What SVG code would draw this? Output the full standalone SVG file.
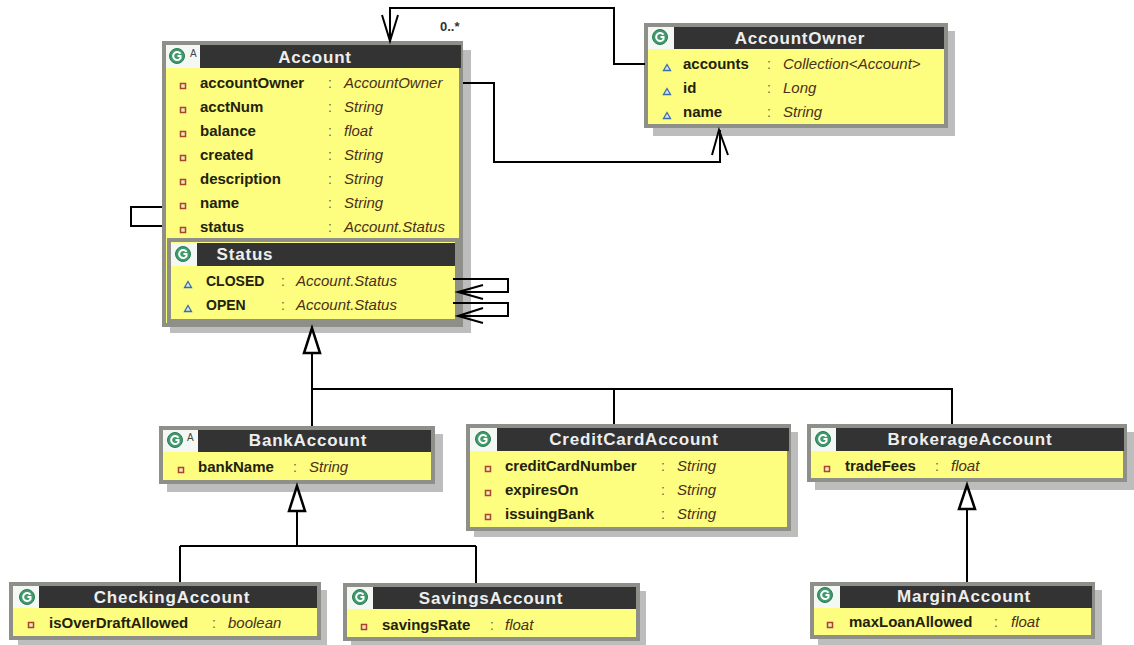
<svg xmlns="http://www.w3.org/2000/svg" width="1134" height="645" viewBox="0 0 1134 645">
<style>
text{font-family:"Liberation Sans",Arial,sans-serif}
.sh{fill:#bdbdbd}
.box{fill:#fdfd80;stroke:#8f8f8a;stroke-width:4}
.hd{fill:#333333}
.ic{fill:#f4f8f4}
.t{fill:#eeeeee;font-size:17px;font-weight:bold;letter-spacing:.8px;text-anchor:middle}
.n{fill:#22220c;font-size:15px;font-weight:bold}
.u{font-size:14px}
.c{fill:#666655;font-size:14px}
.y{fill:#4a3018;font-size:15px;font-style:italic}
.a{fill:#444;font-size:10px}
.m{fill:#333;font-size:13px;font-weight:bold}
.g{fill:#3f9a6c;stroke:#2c7a55;stroke-width:1}
.gl{fill:none;stroke:#fff;stroke-width:2}
.pv{fill:#f4e8c0;stroke:#a8452c;stroke-width:1.5}
.pk{fill:#d8e4f0;stroke:#3a6ea8;stroke-width:1.3}
.l{fill:none;stroke:#000;stroke-width:2}
.o{fill:#fff;stroke:#000;stroke-width:2.5}
</style>
<defs>
<g id="gi"><circle r="7.5" class="g"/><path d="M3.5-2.2A4 4 0 1 0 3.5 2.2V0H.5" class="gl"/></g>
<rect id="pv" x="-2.5" y="-2.5" width="5" height="5" class="pv"/>
<path id="pk" d="M0-3.5L3.5 2.5H-3.5Z" class="pk"/>
</defs>
<g id="Account">
<rect class="sh" x="170" y="50" width="301" height="283"/>
<rect class="box" x="164" y="43" width="297" height="282"/>
<rect class="ic" x="166" y="45" width="34" height="23"/><rect class="hd" x="200" y="45" width="261" height="23"/>
<use href="#gi" x="177" y="56"/><text class="a" x="190" y="57">A</text>
<text class="t" x="315" y="63">Account</text>
<use href="#pv" x="183" y="86"/><text class="n" x="200" y="88">accountOwner</text><text class="c" x="328" y="88">:</text><text class="y" x="344" y="88">AccountOwner</text>
<use href="#pv" x="183" y="110"/><text class="n" x="200" y="112">acctNum</text><text class="c" x="328" y="112">:</text><text class="y" x="344" y="112">String</text>
<use href="#pv" x="183" y="134"/><text class="n" x="200" y="136">balance</text><text class="c" x="328" y="136">:</text><text class="y" x="344" y="136">float</text>
<use href="#pv" x="183" y="158"/><text class="n" x="200" y="160">created</text><text class="c" x="328" y="160">:</text><text class="y" x="344" y="160">String</text>
<use href="#pv" x="183" y="182"/><text class="n" x="200" y="184">description</text><text class="c" x="328" y="184">:</text><text class="y" x="344" y="184">String</text>
<use href="#pv" x="183" y="206"/><text class="n" x="200" y="208">name</text><text class="c" x="328" y="208">:</text><text class="y" x="344" y="208">String</text>
<use href="#pv" x="183" y="230"/><text class="n" x="200" y="232">status</text><text class="c" x="328" y="232">:</text><text class="y" x="344" y="232">Account.Status</text>
</g>
<g id="Status">
<rect class="box" x="169" y="240" width="288" height="81"/>
<rect class="ic" x="171" y="243" width="26" height="23"/><rect class="hd" x="197" y="243" width="258" height="23"/>
<use href="#gi" x="183" y="254"/>
<text class="t" x="245" y="260">Status</text>
<use href="#pk" x="188" y="285"/><text class="n u" x="206" y="286">CLOSED</text><text class="c" x="281" y="286">:</text><text class="y" x="296" y="286">Account.Status</text>
<use href="#pk" x="188" y="309"/><text class="n u" x="206" y="310">OPEN</text><text class="c" x="281" y="310">:</text><text class="y" x="296" y="310">Account.Status</text>
</g>
<text class="m" x="440" y="31">0..*</text>
<g id="AccountOwner">
<rect class="sh" x="653" y="31" width="302" height="105"/>
<rect class="box" x="646" y="25" width="300" height="101"/>
<rect class="ic" x="648" y="27" width="26" height="22"/><rect class="hd" x="674" y="27" width="270" height="22"/>
<use href="#gi" x="660" y="37"/>
<text class="t" x="800" y="44">AccountOwner</text>
<use href="#pk" x="667" y="68"/><text class="n" x="683" y="69">accounts</text><text class="c" x="767" y="69">:</text><text class="y" x="783" y="69">Collection&lt;Account&gt;</text>
<use href="#pk" x="667" y="92"/><text class="n" x="683" y="93">id</text><text class="c" x="767" y="93">:</text><text class="y" x="783" y="93">Long</text>
<use href="#pk" x="667" y="116"/><text class="n" x="683" y="117">name</text><text class="c" x="767" y="117">:</text><text class="y" x="783" y="117">String</text>
</g>
<g id="BankAccount">
<rect class="sh" x="167" y="434" width="276" height="58"/>
<rect class="box" x="161" y="428" width="272" height="54"/>
<rect class="ic" x="163" y="430" width="35" height="22"/><rect class="hd" x="198" y="430" width="233" height="22"/>
<use href="#gi" x="175" y="440"/><text class="a" x="187" y="441">A</text>
<text class="t" x="308" y="446">BankAccount</text>
<use href="#pv" x="181" y="470"/><text class="n" x="198" y="472">bankName</text><text class="c" x="293" y="472">:</text><text class="y" x="309" y="472">String</text>
</g>
<g id="CreditCardAccount">
<rect class="sh" x="474" y="432" width="324" height="105"/>
<rect class="box" x="468" y="426" width="321" height="103"/>
<rect class="ic" x="470" y="428" width="27" height="23"/><rect class="hd" x="497" y="428" width="292" height="23"/>
<use href="#gi" x="483" y="439"/>
<text class="t" x="634" y="445">CreditCardAccount</text>
<use href="#pv" x="488" y="469"/><text class="n" x="505" y="471">creditCardNumber</text><text class="c" x="661" y="471">:</text><text class="y" x="677" y="471">String</text>
<use href="#pv" x="488" y="493"/><text class="n" x="505" y="495">expiresOn</text><text class="c" x="661" y="495">:</text><text class="y" x="677" y="495">String</text>
<use href="#pv" x="488" y="517"/><text class="n" x="505" y="519">issuingBank</text><text class="c" x="661" y="519">:</text><text class="y" x="677" y="519">String</text>
</g>
<g id="BrokerageAccount">
<rect class="sh" x="815" y="432" width="319" height="58"/>
<rect class="box" x="809" y="426" width="316" height="54"/>
<rect class="ic" x="811" y="428" width="25" height="23"/><rect class="hd" x="836" y="428" width="288" height="23"/>
<use href="#gi" x="823" y="439"/>
<text class="t" x="970" y="445">BrokerageAccount</text>
<use href="#pv" x="827" y="469"/><text class="n" x="845" y="471">tradeFees</text><text class="c" x="935" y="471">:</text><text class="y" x="951" y="471">float</text>
</g>
<g id="CheckingAccount">
<rect class="sh" x="18" y="590" width="309" height="55"/>
<rect class="box" x="11" y="584" width="308" height="54"/>
<rect class="ic" x="13" y="586" width="26" height="22"/><rect class="hd" x="39" y="586" width="278" height="22"/>
<use href="#gi" x="27" y="597"/>
<text class="t" x="172" y="603">CheckingAccount</text>
<use href="#pv" x="31" y="625"/><text class="n" x="49" y="628">isOverDraftAllowed</text><text class="c" x="212" y="628">:</text><text class="y" x="228" y="628">boolean</text>
</g>
<g id="SavingsAccount">
<rect class="sh" x="351" y="591" width="295" height="54"/>
<rect class="box" x="345" y="585" width="293" height="54"/>
<rect class="ic" x="347" y="587" width="26" height="22"/><rect class="hd" x="373" y="587" width="263" height="22"/>
<use href="#gi" x="360" y="597"/>
<text class="t" x="491" y="604">SavingsAccount</text>
<use href="#pv" x="364" y="627"/><text class="n" x="382" y="630">savingsRate</text><text class="c" x="490" y="630">:</text><text class="y" x="505" y="630">float</text>
</g>
<g id="MarginAccount">
<rect class="sh" x="818" y="590" width="284" height="55"/>
<rect class="box" x="812" y="584" width="281" height="53"/>
<rect class="ic" x="814" y="586" width="26" height="22"/><rect class="hd" x="840" y="586" width="252" height="22"/>
<use href="#gi" x="825" y="595"/>
<text class="t" x="964" y="602">MarginAccount</text>
<use href="#pv" x="830" y="625"/><text class="n" x="849" y="627">maxLoanAllowed</text><text class="c" x="994" y="627">:</text><text class="y" x="1011" y="627">float</text>
</g>
<g id="connectors">
<path class="l" d="M645 64H614V8H390V41"/>
<path class="l" d="M382 15L390 41L398 15"/>
<path class="l" d="M463 83H494V162H720V130"/>
<path class="l" d="M712 155L719 130L728 155"/>
<path class="l" d="M162 207H131V226H162"/>
<path class="l" d="M453 279H508V292H458"/>
<path class="l" d="M483 285L458 292L483 299"/>
<path class="l" d="M453 303H508V316H458"/>
<path class="l" d="M483 308L458 316L483 323"/>
<path class="l" d="M312 353V426"/>
<path class="l" d="M312 389H952V424M614 389V424"/>
<path class="o" d="M312 328L304 353H320Z"/>
<path class="l" d="M297 511V546M180 546H476M180 546V582M476 546V583"/>
<path class="o" d="M297 486L289 511H305Z"/>
<path class="l" d="M967 509V582"/>
<path class="o" d="M967 485L959 509H975Z"/>
</g>
</svg>
